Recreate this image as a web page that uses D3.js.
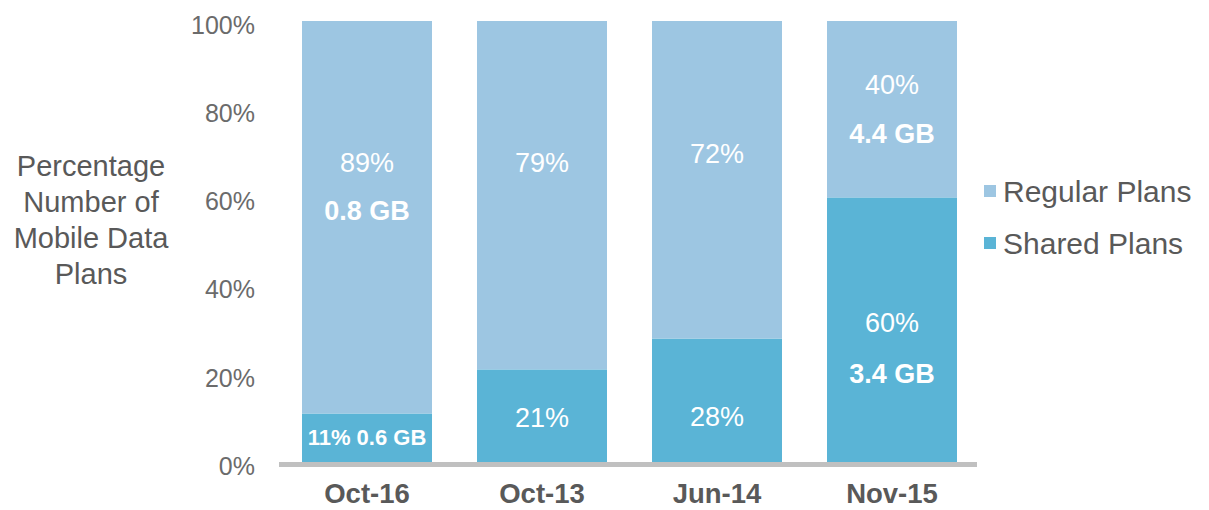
<!DOCTYPE html>
<html lang="en">
<head>
    <meta charset="UTF-8">
    <title>Percentage Number of Mobile Data Plans</title>
    <script src="https://d3js.org/d3.v7.min.js"></script>
    <style>
        body { margin: 0; background: #fff; }
        svg { font-family: "Liberation Sans", Arial, sans-serif; }
    </style>
</head>
<body>
    <div id="chart"></div>

    <script>
        // data
        const periods = ["Oct-16", "Oct-13", "Jun-14", "Nov-15"];
        const sharedPct = [11, 21, 28, 60];
        const regularPct = [89, 79, 72, 40];
        const regularGB = ["0.8 GB", null, null, "4.4 GB"];
        const sharedGB = ["0.6 GB", null, null, "3.4 GB"];
        const yTicks = [0, 20, 40, 60, 80, 100];

        // where the in-bar labels sit, in percent units
        const regPctAt = [67.8, 68, 70, 85.5];
        const regGBAt = [57.1, null, null, 74.4];
        const shPctAt = [5.7, 10, 10.4, 31.7];
        const shGBAt = [null, null, null, 20];

        const colRegular = "#9dc6e2";
        const colShared = "#5ab4d6";

        const W = 1209, H = 510;
        const svg = d3.select("#chart").append("svg").attr("width", W).attr("height", H);

        const x = d3.scaleBand()
            .domain(periods)
            .range([279.5, 979.5])
            .paddingInner(45 / 175)
            .paddingOuter(22.5 / 175);

        const y = d3.scaleLinear().domain([0, 100]).range([462, 21]);

        // stacked bars
        const rows = periods.map((p, i) => ({ period: p, shared: sharedPct[i], regular: regularPct[i] }));
        const stack = d3.stack().keys(["shared", "regular"])(rows);
        const colors = { shared: colShared, regular: colRegular };

        svg.selectAll("g.layer")
            .data(stack)
            .enter().append("g")
            .attr("fill", d => colors[d.key])
            .selectAll("rect")
            .data(d => d)
            .enter().append("rect")
            .attr("x", d => x(d.data.period))
            .attr("y", d => y(d[1]))
            .attr("width", x.bandwidth())
            .attr("height", d => y(d[0]) - y(d[1]));

        // baseline
        svg.append("rect")
            .attr("x", 279)
            .attr("y", y(0))
            .attr("width", 698)
            .attr("height", 5)
            .attr("fill", "#c0c0c0");

        // y tick labels
        svg.append("g")
            .selectAll("text")
            .data(yTicks)
            .enter().append("text")
            .attr("x", 255)
            .attr("y", d => y(d) + 4)
            .attr("dy", "0.35em")
            .attr("text-anchor", "end")
            .attr("font-size", 25)
            .attr("fill", "#6b6b6b")
            .text(d => d + "%");

        // x labels
        svg.append("g")
            .selectAll("text")
            .data(periods)
            .enter().append("text")
            .attr("x", d => x(d) + x.bandwidth() / 2)
            .attr("y", 503)
            .attr("font-size", 27.5)
            .attr("font-weight", "bold")
            .attr("fill", "#595959")
            .attr("text-anchor", "middle")
            .text(d => d);

        // y title
        const titleLines = ["Percentage", "Number of", "Mobile Data", "Plans"];
        svg.append("text")
            .attr("text-anchor", "middle")
            .attr("font-size", 29)
            .attr("fill", "#595959")
            .selectAll("tspan")
            .data(titleLines)
            .enter().append("tspan")
            .attr("x", 91)
            .attr("y", (d, i) => 166 + i * 36)
            .attr("dy", "0.35em")
            .text(d => d);

        // in-bar labels
        const lbl = svg.append("g").attr("fill", "#fff").attr("text-anchor", "middle");
        periods.forEach((p, i) => {
            const cx = x(p) + x.bandwidth() / 2;
            lbl.append("text")
                .attr("x", cx).attr("y", y(regPctAt[i])).attr("dy", "0.35em")
                .attr("font-size", 27)
                .text(regularPct[i] + "%");
            if (regularGB[i]) {
                lbl.append("text")
                    .attr("x", cx).attr("y", y(regGBAt[i])).attr("dy", "0.35em")
                    .attr("font-size", 27).attr("font-weight", "bold")
                    .text(regularGB[i]);
            }
            if (i === 0) {
                // first bar: short segment, percent and GB on one line
                lbl.append("text")
                    .attr("x", cx).attr("y", y(shPctAt[i])).attr("dy", "0.35em")
                    .attr("font-size", 22).attr("font-weight", "bold")
                    .text(sharedPct[i] + "% " + sharedGB[i]);
            } else {
                lbl.append("text")
                    .attr("x", cx).attr("y", y(shPctAt[i])).attr("dy", "0.35em")
                    .attr("font-size", 27)
                    .text(sharedPct[i] + "%");
                if (sharedGB[i]) {
                    lbl.append("text")
                        .attr("x", cx).attr("y", y(shGBAt[i])).attr("dy", "0.35em")
                        .attr("font-size", 27).attr("font-weight", "bold")
                        .text(sharedGB[i]);
                }
            }
        });

        // legend
        const legendItems = [
            { name: "Regular Plans", color: colRegular },
            { name: "Shared Plans", color: colShared }
        ];
        const lg = svg.append("g").selectAll("g")
            .data(legendItems)
            .enter().append("g")
            .attr("transform", (d, i) => `translate(984,${191 + i * 52})`);
        lg.append("rect")
            .attr("x", 0).attr("y", -6)
            .attr("width", 12).attr("height", 12)
            .attr("fill", d => d.color);
        lg.append("text")
            .attr("x", 19)
            .attr("dy", "0.35em")
            .attr("font-size", 30)
            .attr("fill", "#595959")
            .text(d => d.name);
    </script>
</body>
</html>
